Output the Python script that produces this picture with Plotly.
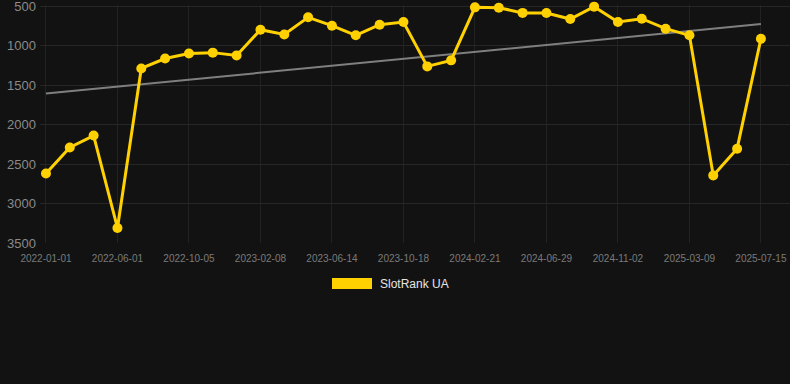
import numpy as np
import plotly.graph_objects as go

dates = [
    "2022-01-01", "2022-02-20", "2022-04-11", "2022-06-01", "2022-07-13", "2022-08-24",
    "2022-10-05", "2022-11-16", "2022-12-28", "2023-02-08", "2023-03-22", "2023-05-03",
    "2023-06-14", "2023-07-26", "2023-09-06", "2023-10-18", "2023-11-29", "2024-01-10",
    "2024-02-21", "2024-04-04", "2024-05-17", "2024-06-29", "2024-08-10", "2024-09-21",
    "2024-11-02", "2024-12-14", "2025-01-25", "2025-03-09", "2025-04-20", "2025-06-02",
    "2025-07-15",
]
ranks = [
    2620, 2290, 2140, 3310, 1290, 1165, 1100, 1090, 1125, 800, 860, 643,
    749, 871, 737, 703, 1264, 1188, 517, 521, 587, 589, 665, 508,
    703, 661, 787, 871, 2644, 2306, 914,
]
tick_dates = dates[::3]
y_ticks = [500, 1000, 1500, 2000, 2500, 3000, 3500]
series_name = "SlotRank UA"

idx = np.arange(len(ranks))
slope, intercept = np.polyfit(idx, ranks, 1)
trend = (slope * idx + intercept).tolist()

GOLD = "#FFD100"
BG = "#121212"
FONT = "Arial, Liberation Sans, sans-serif"

fig = go.Figure()
fig.add_trace(go.Scatter(
    x=dates, y=trend, mode="lines",
    line=dict(color="#7f7f7f", width=2),
    hoverinfo="skip", showlegend=False,
))
fig.add_trace(go.Scatter(
    x=dates, y=ranks, mode="lines+markers", name=series_name,
    line=dict(color=GOLD, width=3),
    marker=dict(color=GOLD, size=10),
    cliponaxis=False,
    showlegend=False,
))

# legend drawn as swatch + text
fig.add_shape(type="rect", xref="paper", yref="paper",
              x0=(332 - 40) / 750, x1=(372 - 40) / 750,
              y0=(243 - 289) / 238, y1=(243 - 278) / 238,
              fillcolor=GOLD, line=dict(width=0))
fig.add_annotation(xref="paper", yref="paper",
                   x=(378 - 40) / 750, y=(243 - 284) / 238,
                   text=series_name, showarrow=False,
                   xanchor="left", yanchor="middle",
                   font=dict(family=FONT, size=12, color="#e6e6e6"))

fig.update_layout(
    width=790, height=384,
    margin=dict(l=40, r=0, t=5, b=141),
    paper_bgcolor=BG, plot_bgcolor=BG,
    font=dict(family=FONT),
    showlegend=False,
    xaxis=dict(
        type="category", categoryorder="array", categoryarray=dates,
        range=[-0.25, 31.22],
        tickmode="array", tickvals=tick_dates, ticktext=tick_dates,
        tickfont=dict(size=10, color="#7a7a7a"),
        showgrid=True, gridcolor="#222222", gridwidth=1,
        zeroline=False, showline=False, ticks="",
        ticklabelstandoff=8, ticklabeloverflow="allow",
    ),
    yaxis=dict(
        range=[3500, 487],
        tickmode="array", tickvals=y_ticks,
        tickfont=dict(size=13, color="#8a8a8a"),
        showgrid=True, gridcolor="#262626", gridwidth=1,
        zeroline=False, showline=False, ticks="",
        ticklabelstandoff=3, ticklabeloverflow="allow",
    ),
)

fig.write_html(
    "out.html",
    config={"displayModeBar": False},
    post_script="document.body.style.margin='0';document.body.style.background='#121212';",
)
